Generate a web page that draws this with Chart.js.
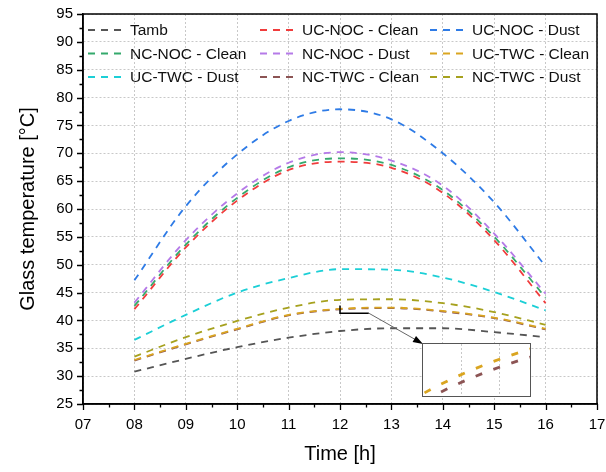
<!DOCTYPE html>
<html>
<head>
<meta charset="utf-8">
<script src="https://cdn.jsdelivr.net/npm/chart.js@4.4.1/dist/chart.umd.min.js"></script>
<style>
  body { margin: 0; background: #fff; }
  #wrap { position: relative; width: 606px; height: 472px; }
  #inset { position: absolute; left: 422px; top: 343px; width: 107px; height: 52px;
           border: 1.5px solid #555; background: #fff; }
</style>
</head>
<body>
<div id="wrap">
  <canvas id="myChart" width="606" height="472"></canvas>
  <div id="inset"><canvas id="insetChart" width="107" height="52"></canvas></div>
</div>
<script>
// time of day [h]
const hours = [8, 9, 10, 11, 12, 13, 14, 15, 16];
const xTickLabels = ['07', '08', '09', '10', '11', '12', '13', '14', '15', '16', '17'];

// glass temperature [°C]
const tamb       = [30.8, 33.1, 35.2, 36.9, 38.1, 38.6, 38.6, 37.9, 37.0];
const ucNocClean = [42.0, 53.1, 61.5, 67.0, 68.5, 67.4, 62.9, 54.4, 43.1];
const ucNocDust  = [47.2, 60.5, 69.8, 75.8, 77.9, 76.1, 70.0, 61.2, 49.7];
const ncNocClean = [42.6, 53.6, 62.0, 67.5, 69.1, 67.9, 63.4, 55.0, 44.1];
const ncNocDust  = [43.2, 54.4, 62.8, 68.3, 70.2, 68.7, 64.2, 55.6, 44.8];
const ucTwcClean = [32.9, 35.8, 38.5, 40.99, 42.09, 42.3, 41.7, 40.5, 38.5];
const ucTwcDust  = [36.5, 41.0, 45.0, 47.6, 49.2, 49.1, 47.7, 45.1, 41.8];
const ncTwcClean = [32.8, 35.7, 38.4, 40.9, 42.0, 42.2, 41.6, 40.4, 38.4];
const ncTwcDust  = [33.5, 37.0, 39.9, 42.3, 43.7, 43.8, 43.1, 41.5, 39.2];

const font = "'Liberation Sans', Arial, sans-serif";

function pts(arr) {
    return hours.map((h, i) => ({ x: h, y: arr[i] }));
}

function line(label, values, color) {
    return {
        label: label,
        data: pts(values),
        borderColor: color,
        backgroundColor: color,
        borderWidth: 1.8,
        borderDash: [7, 6],
        pointRadius: 0,
        cubicInterpolationMode: 'monotone',
        fill: false
    };
}

const datasets = [
    line('Tamb', tamb, '#555555'),
    line('UC-NOC - Clean', ucNocClean, '#f03c3c'),
    line('UC-NOC - Dust', ucNocDust, '#2e7be6'),
    line('NC-NOC - Clean', ncNocClean, '#34a96c'),
    line('NC-NOC - Dust', ncNocDust, '#b57ae8'),
    line('UC-TWC - Clean', ucTwcClean, '#daa520'),
    line('UC-TWC - Dust', ucTwcDust, '#1ccfd6'),
    line('NC-TWC - Clean', ncTwcClean, '#8c5454'),
    line('NC-TWC - Dust', ncTwcDust, '#a6a11e')
];

// frame, minor/major ticks, legend, zoom marker + arrow
const decorations = {
    id: 'decorations',
    afterDraw(chart) {
        const { ctx, chartArea: a, scales: { x, y } } = chart;
        ctx.save();
        ctx.strokeStyle = '#000';
        ctx.lineWidth = 1.5;
        ctx.strokeRect(a.left, a.top, a.right - a.left, a.bottom - a.top);

        ctx.lineWidth = 1.3;
        ctx.beginPath();
        for (let v = x.min; v <= x.max + 1e-6; v += 0.5) {
            const px = Math.round(x.getPixelForValue(v)) + 0.5;
            const len = Math.abs(v - Math.round(v)) < 1e-6 ? 6 : 3.5;
            ctx.moveTo(px, a.bottom);
            ctx.lineTo(px, a.bottom + len);
        }
        for (let v = y.min; v <= y.max + 1e-6; v += 2.5) {
            const py = Math.round(y.getPixelForValue(v)) + 0.5;
            const len = Math.abs(v / 5 - Math.round(v / 5)) < 1e-6 ? 6 : 3.5;
            ctx.moveTo(a.left, py);
            ctx.lineTo(a.left - len, py);
        }
        ctx.stroke();

        // legend, three columns inside the plot
        const colX = [a.left + 5, a.left + 177, a.left + 347];
        const rowY = [a.top + 16, a.top + 39.5, a.top + 63];
        ctx.font = '15.5px ' + font;
        ctx.textBaseline = 'middle';
        ctx.fillStyle = '#111';
        chart.data.datasets.forEach((ds, i) => {
            const cx = colX[i % 3];
            const cy = rowY[Math.floor(i / 3)];
            ctx.strokeStyle = ds.borderColor;
            ctx.lineWidth = 2;
            ctx.setLineDash([7, 6]);
            ctx.beginPath();
            ctx.moveTo(cx, cy);
            ctx.lineTo(cx + 38, cy);
            ctx.stroke();
            ctx.setLineDash([]);
            ctx.fillText(ds.label, cx + 42, cy + 1);
        });

        // zoom marker
        const x0 = x.getPixelForValue(12.0), x1 = x.getPixelForValue(12.56);
        const yT = y.getPixelForValue(42.7), yB = y.getPixelForValue(41.3);
        ctx.strokeStyle = '#000';
        ctx.lineWidth = 1.5;
        ctx.beginPath();
        ctx.moveTo(x0, yT);
        ctx.lineTo(x0, yB);
        ctx.lineTo(x1, yB);
        ctx.stroke();

        // arrow to the inset
        const tx = 423, ty = 344;
        ctx.strokeStyle = '#666';
        ctx.lineWidth = 1;
        ctx.beginPath();
        ctx.moveTo(x1, yB);
        ctx.lineTo(tx - 6, ty - 3.5);
        ctx.stroke();
        const ang = Math.atan2(ty - yB, tx - x1);
        ctx.fillStyle = '#000';
        ctx.beginPath();
        ctx.moveTo(tx, ty);
        ctx.lineTo(tx - 10 * Math.cos(ang) + 3.5 * Math.sin(ang), ty - 10 * Math.sin(ang) - 3.5 * Math.cos(ang));
        ctx.lineTo(tx - 10 * Math.cos(ang) - 3.5 * Math.sin(ang), ty - 10 * Math.sin(ang) + 3.5 * Math.cos(ang));
        ctx.closePath();
        ctx.fill();
        ctx.restore();
    }
};

const config = {
    type: 'line',
    data: { datasets: datasets },
    options: {
        responsive: false,
        animation: false,
        layout: { padding: { top: 14, right: 9, left: 0, bottom: 0 } },
        plugins: { legend: { display: false }, tooltip: { enabled: false } },
        scales: {
            x: {
                type: 'linear',
                min: 7,
                max: 17,
                afterFit: s => { s.height = 68; s.paddingLeft = 0; s.paddingRight = 0; },
                ticks: {
                    stepSize: 1,
                    padding: 12,
                    color: '#000',
                    font: { family: font, size: 15 },
                    callback: (v, i) => xTickLabels[i]
                },
                grid: { color: '#c8c8c8', lineWidth: 1, drawTicks: false },
                border: { display: true, color: '#000', width: 1.5, dash: [2, 2] },
                title: {
                    display: true,
                    text: 'Time [h]',
                    color: '#000',
                    font: { family: font, size: 20 },
                    padding: { top: 0, bottom: 6 }
                }
            },
            y: {
                min: 25,
                max: 95,
                afterFit: s => { s.width = 83; s.paddingTop = 0; s.paddingBottom = 0; },
                ticks: {
                    stepSize: 5,
                    padding: 10,
                    color: '#000',
                    font: { family: font, size: 15 }
                },
                grid: { color: '#c8c8c8', lineWidth: 1, drawTicks: false },
                border: { display: true, color: '#000', width: 1.5, dash: [2, 2] },
                title: {
                    display: true,
                    text: 'Glass temperature [°C]',
                    color: '#000',
                    font: { family: font, size: 20 },
                    padding: { top: 16, bottom: 0 }
                }
            }
        }
    },
    plugins: [decorations]
};

const myChart = new Chart(document.getElementById('myChart'), config);

// inset: close-up of UC-TWC - Clean and NC-TWC - Clean
const insetChart = new Chart(document.getElementById('insetChart'), {
    type: 'line',
    data: {
        datasets: [
            Object.assign(line('UC-TWC - Clean', ucTwcClean, '#daa520'), { borderWidth: 2.8, borderDash: [7, 12] }),
            Object.assign(line('NC-TWC - Clean', ncTwcClean, '#8c5454'), { borderWidth: 2.8, borderDash: [7, 12] })
        ]
    },
    options: {
        responsive: false,
        animation: false,
        layout: { padding: 0 },
        plugins: { legend: { display: false }, tooltip: { enabled: false } },
        scales: {
            x: {
                type: 'linear',
                min: 11.4,
                max: 11.96,
                afterBuildTicks: s => { s.ticks = [{ value: 11.6 }, { value: 11.8 }]; },
                afterFit: s => { s.height = 0; s.paddingLeft = 0; s.paddingRight = 0; },
                ticks: { display: false },
                grid: { color: '#c8c8c8', drawTicks: false },
                border: { display: false, dash: [2, 2] }
            },
            y: { display: false, min: 41.55, max: 42.12 }
        }
    }
});
</script>
</body>
</html>
